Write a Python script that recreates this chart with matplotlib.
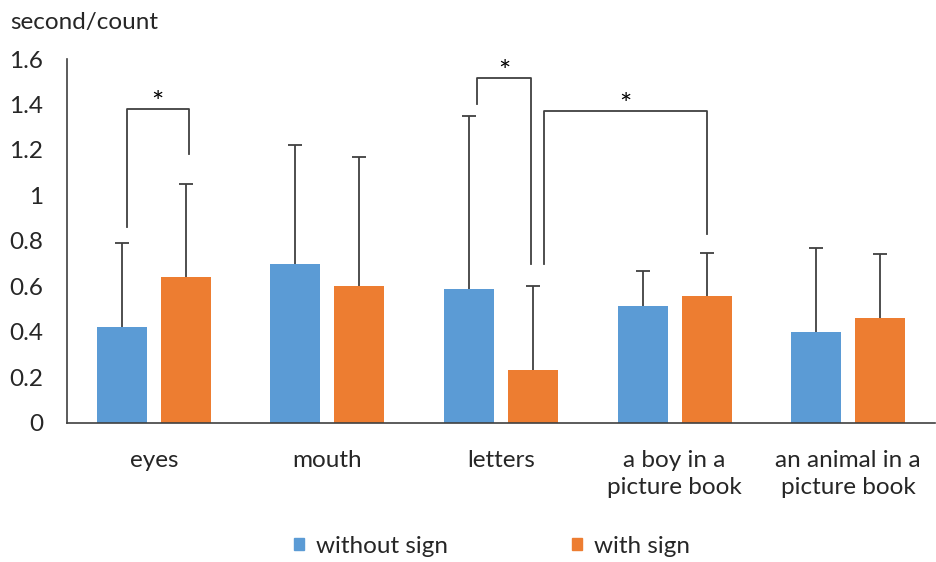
import numpy as np
import matplotlib.pyplot as plt

plt.rcParams['font.family'] = ['Lato', 'DejaVu Sans']

categories = ["eyes", "mouth", "letters", "a boy in a\npicture book", "an animal in a\npicture book"]
without_sign = [0.42, 0.70, 0.59, 0.515, 0.40]
without_sign_sd = [0.37, 0.52, 0.76, 0.15, 0.37]
with_sign = [0.64, 0.60, 0.23, 0.555, 0.46]
with_sign_sd = [0.41, 0.57, 0.37, 0.19, 0.28]
series_names = ["without sign", "with sign"]

# significance brackets: (left x, right x, top y, left leg bottom, right leg bottom)
brackets = [
    (-0.155, 0.200, 1.38, 0.86, 1.18),
    (1.860, 2.175, 1.515, 1.40, 0.70),
    (2.250, 3.185, 1.37, 0.70, 0.83),
]

blue = "#5B9BD5"
orange = "#ED7D31"
ink = "#404040"
text_color = "#262626"
fs = 17.5

fig = plt.figure(figsize=(9.37, 5.62), dpi=100)
ax = fig.add_axes([0.0715, 0.248, 0.9264, 0.647])

x = np.arange(len(categories))
offset = 0.184
width = 0.288

for xs, vals, sd, color in [
    (x - offset, without_sign, without_sign_sd, blue),
    (x + offset, with_sign, with_sign_sd, orange),
]:
    ax.bar(xs, vals, width, color=color, zorder=2)
    eb = ax.errorbar(xs, vals, yerr=[np.zeros(len(vals)), sd], fmt="none",
                     ecolor=ink, elinewidth=1.3, capsize=5, capthick=1.3, zorder=3)
    eb[1][0].set_visible(False)

for x0, x1, top, b0, b1 in brackets:
    ax.plot([x0, x0, x1, x1], [b0, top, top, b1], color=ink, lw=1.3, zorder=3)
    ax.text((x0 + x1) / 2, top - 0.035, "*", ha="center", va="bottom",
            fontsize=21, color="black")

ax.set_xlim(-0.5, 4.5)
ax.set_ylim(0, 1.6)
ax.set_yticks(np.arange(0, 1.61, 0.2))
ax.set_yticklabels(["0", "0.2", "0.4", "0.6", "0.8", "1", "1.2", "1.4", "1.6"])
ax.set_xticks(x)
ax.set_xticklabels(categories, linespacing=1.35)
ax.tick_params(axis="both", length=0, labelsize=fs, colors=text_color)
ax.tick_params(axis="y", pad=17)
ax.tick_params(axis="x", pad=20)
for side in ["top", "right"]:
    ax.spines[side].set_visible(False)
for side in ["left", "bottom"]:
    ax.spines[side].set_color(ink)
    ax.spines[side].set_linewidth(1.2)

fig.text(0.011, 0.96, "second/count", fontsize=fs, color=text_color, ha="left", va="center")

handles = [plt.Rectangle((0, 0), 1, 1, color=blue), plt.Rectangle((0, 0), 1, 1, color=orange)]
fig.legend(handles, series_names, loc="center", bbox_to_anchor=(0.525, 0.028), ncol=2,
           frameon=False, fontsize=fs, handlelength=0.42, handleheight=0.42,
           handletextpad=0.5, columnspacing=5.1, labelcolor=text_color)

fig.savefig("out.png", dpi=100)
